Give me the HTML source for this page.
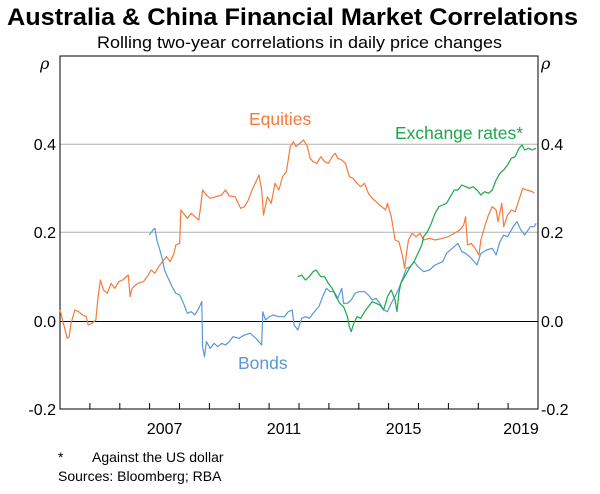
<!DOCTYPE html>
<html><head><meta charset="utf-8"><style>
body{margin:0;background:#fff;width:600px;height:489px;overflow:hidden;font-family:"Liberation Sans",sans-serif}
</style></head><body>
<svg width="600" height="489" xmlns="http://www.w3.org/2000/svg" font-family="Liberation Sans, sans-serif">
<text x="7" y="25" font-size="24" font-weight="bold" textLength="571" lengthAdjust="spacingAndGlyphs">Australia &amp; China Financial Market Correlations</text>
<text x="97" y="48" font-size="17" textLength="405" lengthAdjust="spacingAndGlyphs">Rolling two-year correlations in daily price changes</text>
<line x1="60" y1="144.3" x2="538" y2="144.3" stroke="#b0b0b0"/>
<line x1="60" y1="232.3" x2="538" y2="232.3" stroke="#b0b0b0"/>
<line x1="60" y1="321.5" x2="538" y2="321.5" stroke="#000"/>
<rect x="60" y="56" width="478" height="353" fill="none" stroke="#000"/>
<g stroke="#000">
<line x1="89.9" y1="409" x2="89.9" y2="403"/><line x1="119.8" y1="409" x2="119.8" y2="403"/><line x1="149.6" y1="409" x2="149.6" y2="403"/><line x1="179.5" y1="409" x2="179.5" y2="403"/><line x1="209.4" y1="409" x2="209.4" y2="403"/><line x1="239.3" y1="409" x2="239.3" y2="403"/><line x1="269.1" y1="409" x2="269.1" y2="403"/><line x1="299" y1="409" x2="299" y2="403"/><line x1="328.9" y1="409" x2="328.9" y2="403"/><line x1="358.8" y1="409" x2="358.8" y2="403"/><line x1="388.6" y1="409" x2="388.6" y2="403"/><line x1="418.5" y1="409" x2="418.5" y2="403"/><line x1="448.4" y1="409" x2="448.4" y2="403"/><line x1="478.3" y1="409" x2="478.3" y2="403"/><line x1="508.1" y1="409" x2="508.1" y2="403"/>
</g>
<g font-size="16" fill="#000">
<text x="40" y="69" font-style="italic" font-family="DejaVu Serif, serif">ρ</text>
<text x="541" y="69" font-style="italic" font-family="DejaVu Serif, serif">ρ</text>
<text x="56" y="150" text-anchor="end">0.4</text><text x="56" y="238" text-anchor="end">0.2</text><text x="56" y="327" text-anchor="end">0.0</text><text x="56" y="415" text-anchor="end">-0.2</text>
<text x="541" y="150">0.4</text><text x="541" y="238">0.2</text><text x="541" y="327">0.0</text><text x="541" y="415">-0.2</text>
<text x="164.6" y="434" text-anchor="middle">2007</text><text x="284" y="434" text-anchor="middle">2011</text><text x="403.6" y="434" text-anchor="middle">2015</text><text x="521" y="434" text-anchor="middle">2019</text>
</g>
<g font-size="17.5">
<text x="249" y="125" fill="#f47a3a">Equities</text>
<text x="395" y="139" fill="#1aa84a" textLength="128" lengthAdjust="spacingAndGlyphs">Exchange rates*</text>
<text x="238" y="369" fill="#5b96d8">Bonds</text>
</g>
<g font-size="14">
<text x="58" y="462">*</text><text x="92" y="462">Against the US dollar</text>
<text x="58" y="481">Sources:  Bloomberg; RBA</text>
</g>
<g transform="translate(0.53,40) scale(0.3812,0.33333)" fill="none" stroke-width="1.2" stroke-linejoin="round">
<polyline vector-effect="non-scaling-stroke" stroke="#f47a3a" points="156,810 165,850 175,895 180,890 185,850 195,810 205,815 215,825 225,830 230,855 240,850 250,840 255,780 262,720 270,750 280,760 290,730 300,745 310,725 320,720 335,705 340,770 345,745 360,730 375,725 385,710 395,690 405,700 415,680 425,665 435,650 445,665 455,640 460,615 470,610 473,510 480,520 490,535 500,520 510,530 520,540 525,500 530,450 540,465 550,475 565,470 580,465 590,450 600,468 615,470 630,505 640,500 650,480 660,450 670,425 678,405 685,450 690,525 700,470 710,490 720,430 730,450 740,410 750,395 760,320 768,305 775,320 785,310 795,300 805,320 812,355 820,365 830,370 840,350 850,365 860,370 870,350 878,340 885,355 895,360 905,370 915,410 925,415 935,430 945,440 955,430 965,460 975,475 985,485 1000,500 1010,510 1015,490 1025,530 1030,565 1035,600 1045,605 1055,650 1060,685 1065,640 1070,600 1080,580 1090,590 1100,580 1110,600 1125,595 1140,600 1160,595 1175,590 1190,580 1205,570 1215,555 1220,530 1225,615 1235,610 1245,625 1255,645 1260,600 1270,560 1280,525 1290,500 1300,510 1305,545 1315,490 1320,560 1330,525 1340,510 1350,515 1360,480 1370,445 1380,450 1395,455 1400,460"/>
<polyline vector-effect="non-scaling-stroke" stroke="#5b96d8" points="390,585 400,570 405,565 410,600 418,630 425,660 430,690 440,715 450,740 460,760 470,765 480,790 490,820 500,815 510,825 520,805 528,785 530,920 535,950 540,905 550,925 560,910 570,920 580,910 590,915 600,905 610,890 625,895 640,885 655,880 670,895 685,915 688,815 695,840 705,830 715,825 730,830 745,830 755,815 765,810 770,855 780,870 790,835 800,830 810,835 820,820 835,800 845,770 855,745 865,755 875,755 885,775 895,745 900,790 910,790 920,780 930,760 940,755 955,755 965,765 975,780 985,775 995,790 1005,810 1015,815 1025,790 1035,770 1045,745 1055,715 1065,685 1075,680 1085,665 1095,680 1110,695 1125,690 1140,675 1150,670 1160,665 1170,640 1185,625 1200,610 1210,635 1220,640 1235,655 1250,675 1260,640 1275,630 1290,625 1300,645 1310,605 1320,585 1330,590 1345,560 1355,545 1365,570 1375,585 1390,560 1400,560 1405,550"/>
<polyline vector-effect="non-scaling-stroke" stroke="#1aa84a" points="780,710 790,705 800,720 810,710 820,695 828,690 840,710 850,710 860,730 870,745 880,770 890,790 900,800 910,830 915,860 920,875 925,855 935,830 945,835 955,815 965,800 975,785 985,790 995,795 1005,810 1010,790 1015,770 1020,760 1025,750 1030,765 1035,780 1040,815 1045,760 1050,730 1060,710 1065,700 1075,680 1085,665 1095,640 1105,615 1110,590 1120,575 1130,550 1140,520 1150,500 1160,495 1170,490 1180,470 1190,450 1200,450 1210,435 1220,440 1230,445 1240,440 1250,450 1260,465 1270,455 1280,460 1290,450 1300,420 1310,400 1320,390 1330,375 1340,355 1350,350 1360,325 1368,315 1375,330 1385,325 1395,330 1405,325"/>
</g>
</svg>
</body></html>
